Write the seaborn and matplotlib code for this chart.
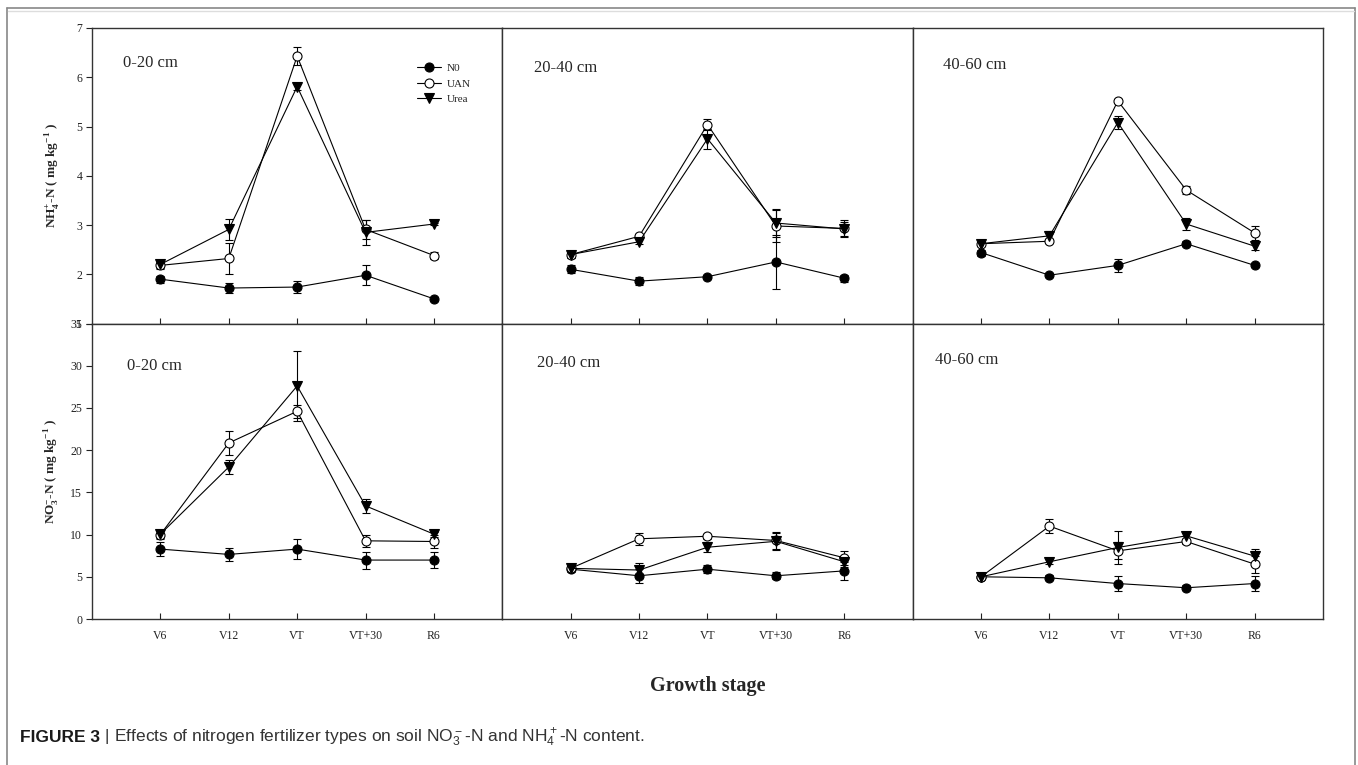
import matplotlib
matplotlib.use('Agg')
import matplotlib.pyplot as plt
import pandas as pd
import seaborn as sns
from matplotlib.lines import Line2D

# stages and depths
stages = ['V6', 'V12', 'VT', 'VT+30', 'R6']
depths = ['0-20 cm', '20-40 cm', '40-60 cm']
treatments = ['N0', 'UAN', 'Urea']

# NH4+-N (mg/kg), one row per depth
nh4_n0 = [[1.90, 1.72, 1.74, 1.98, 1.50], [2.10, 1.86, 1.95, 2.25, 1.92], [2.44, 1.98, 2.18, 2.62, 2.18]]
nh4_n0_se = [[0.07, 0.10, 0.12, 0.20, 0.04], [0.08, 0.08, 0.03, 0.54, 0.07], [0.06, 0.03, 0.13, 0.05, 0.04]]
nh4_uan = [[2.18, 2.32, 6.43, 2.91, 2.38], [2.40, 2.77, 5.04, 2.98, 2.93], [2.62, 2.67, 5.52, 3.71, 2.84]]
nh4_uan_se = [[0.07, 0.32, 0.18, 0.19, 0.08], [0.08, 0.03, 0.11, 0.33, 0.17], [0.04, 0.03, 0.03, 0.08, 0.14]]
nh4_urea = [[2.20, 2.91, 5.81, 2.85, 3.02], [2.40, 2.66, 4.75, 3.04, 2.92], [2.62, 2.78, 5.08, 3.02, 2.57]]
nh4_urea_se = [[0.07, 0.22, 0.06, 0.25, 0.03], [0.08, 0.05, 0.20, 0.28, 0.15], [0.04, 0.10, 0.13, 0.12, 0.08]]

# NO3--N (mg/kg), one row per depth
no3_n0 = [[8.28, 7.65, 8.28, 6.98, 6.98], [5.90, 5.12, 5.90, 5.12, 5.70], [5.00, 4.88, 4.20, 3.70, 4.20]]
no3_n0_se = [[0.85, 0.8, 1.2, 1.0, 0.9], [0.3, 0.8, 0.5, 0.4, 1.1], [0.2, 0.3, 0.9, 0.3, 0.9]]
no3_uan = [[10.0, 20.85, 24.6, 9.26, 9.18], [6.0, 9.5, 9.8, 9.3, 7.25], [5.0, 11.0, 8.07, 9.18, 6.5]]
no3_uan_se = [[0.5, 1.4, 0.8, 0.7, 0.8], [0.2, 0.7, 0.3, 1.0, 0.8], [0.2, 0.8, 1.0, 0.3, 1.0]]
no3_urea = [[10.05, 18.0, 27.6, 13.4, 10.05], [6.0, 5.8, 8.5, 9.2, 6.78], [5.0, 6.78, 8.47, 9.85, 7.45]]
no3_urea_se = [[0.4, 0.8, 4.1, 0.8, 0.3], [0.2, 0.8, 0.6, 1.0, 0.6], [0.2, 0.3, 1.9, 0.4, 0.8]]

# build a long table
rows = []
src = {
    'NH4': {'N0': (nh4_n0, nh4_n0_se), 'UAN': (nh4_uan, nh4_uan_se), 'Urea': (nh4_urea, nh4_urea_se)},
    'NO3': {'N0': (no3_n0, no3_n0_se), 'UAN': (no3_uan, no3_uan_se), 'Urea': (no3_urea, no3_urea_se)},
}
for ion, d in src.items():
    for trt, (vals, ses) in d.items():
        for di, depth in enumerate(depths):
            for si, st in enumerate(stages):
                rows.append({'ion': ion, 'treatment': trt, 'depth': depth, 'pos': si + 1,
                             'value': vals[di][si], 'se': ses[di][si]})
df = pd.DataFrame(rows)

sns.set_style('ticks')
plt.rcParams['font.family'] = ['Liberation Serif', 'DejaVu Serif']
plt.rcParams['mathtext.fontset'] = 'custom'
plt.rcParams['mathtext.rm'] = 'Liberation Serif'
plt.rcParams['mathtext.bf'] = 'Liberation Serif:bold'
plt.rcParams['mathtext.sf'] = 'Liberation Sans'

styles = {
    'N0': dict(marker='o', markerfacecolor='black'),
    'UAN': dict(marker='o', markerfacecolor='white'),
    'Urea': dict(marker='v', markerfacecolor='black'),
}

fig = plt.figure(figsize=(13.58, 7.65), dpi=100)
axes = fig.subplots(2, 3)
fig.subplots_adjust(left=92 / 1358, right=1323 / 1358, top=1 - 28 / 765, bottom=1 - 619 / 765,
                    wspace=0, hspace=0)

# label positions (axes fraction) per panel
label_pos = [[(0.075, 0.88), (0.078, 0.864), (0.073, 0.875)],
             [(0.085, 0.855), (0.085, 0.865), (0.054, 0.878)]]

for r, ion in enumerate(['NH4', 'NO3']):
    for c, depth in enumerate(depths):
        ax = axes[r][c]
        for trt in treatments:
            sub = df[(df.ion == ion) & (df.depth == depth) & (df.treatment == trt)]
            ax.errorbar(sub['pos'], sub['value'], yerr=sub['se'], fmt='none', ecolor='black',
                        elinewidth=0.8, capsize=3, capthick=0.8, zorder=2)
            sns.lineplot(data=sub, x='pos', y='value', ax=ax, color='black', linewidth=0.8,
                         markersize=6.5, markeredgecolor='black', markeredgewidth=0.8,
                         errorbar=None, legend=False, zorder=3, **styles[trt])
        ax.set_xlim(0, 6)
        ax.set_xticks(range(1, 6))
        ax.set_xlabel('')
        ax.set_ylabel('')
        if ion == 'NH4':
            ax.set_ylim(1, 7)
            ax.set_yticks(range(1, 8))
            ax.tick_params(axis='x', labelbottom=False)
        else:
            ax.set_ylim(0, 35)
            ax.set_yticks(range(0, 36, 5))
            ax.set_xticklabels(stages)
        ax.tick_params(axis='x', direction='in', length=4, width=0.8, labelsize=8.5, pad=8,
                       colors='#222222')
        if c == 0:
            ax.tick_params(axis='y', direction='out', length=4, width=0.8, labelsize=8.5, pad=3,
                           colors='#222222')
        else:
            ax.tick_params(axis='y', left=False, labelleft=False)
        for sp in ax.spines.values():
            sp.set_visible(True)
            sp.set_color('#333333')
            sp.set_linewidth(1.0)
        lx, ly = label_pos[r][c]
        ax.text(lx, ly, depth, transform=ax.transAxes, fontsize=12, ha='left', va='center')

# legend in first panel
handles = [Line2D([], [], color='black', linewidth=0.8, markersize=6.5, markeredgecolor='black',
                  markeredgewidth=0.8, **styles[t]) for t in treatments]
axes[0][0].legend(handles, treatments, loc='upper left', bbox_to_anchor=(0.78, 0.895),
                  frameon=False, fontsize=8, handlelength=2.2, labelspacing=0.5,
                  handletextpad=0.5, borderaxespad=0)

axes[0][0].set_ylabel(r'NH$_{\mathbf{4}}^{\mathbf{+}}$-N ( mg kg$^{\mathbf{-1}}$ )',
                      fontsize=9.5, fontweight='bold', labelpad=10)
axes[1][0].set_ylabel(r'NO$_{\mathbf{3}}^{\mathbf{-}}$-N ( mg kg$^{\mathbf{-1}}$ )',
                      fontsize=9.5, fontweight='bold', labelpad=7)

fig.text(708 / 1358, 1 - 686 / 765, 'Growth stage', ha='center', va='center',
         fontsize=14.5, fontweight='bold')

# outer frame
for xs, ys in [((7, 7), (8, 765)), ((1355, 1355), (8, 765)), ((7, 1355), (8, 8))]:
    fig.add_artist(Line2D([x / 1358 for x in xs], [1 - y / 765 for y in ys],
                          transform=fig.transFigure, color='#888888', linewidth=1.2))
fig.add_artist(Line2D([8 / 1358, 1354 / 1358], [1 - 10.5 / 765] * 2, transform=fig.transFigure,
                      color='#dddddd', linewidth=1.0))

# caption
cap_y = 1 - 742 / 765
t1 = fig.text(20 / 1358, cap_y, 'FIGURE 3', ha='left', va='baseline', fontsize=12.5,
              fontweight='bold', family='Liberation Sans', color='#1a1a1a')
renderer = fig.canvas.get_renderer()
bb = t1.get_window_extent(renderer)
fig.text(bb.x1 / fig.bbox.width, cap_y,
         r' | Effects of nitrogen fertilizer types on soil NO$\mathsf{_3^-}$-N and NH$\mathsf{_4^+}$-N content.',
         ha='left', va='baseline', fontsize=12.5, family='Liberation Sans', color='#333333')

fig.savefig('out.png', dpi=100)
